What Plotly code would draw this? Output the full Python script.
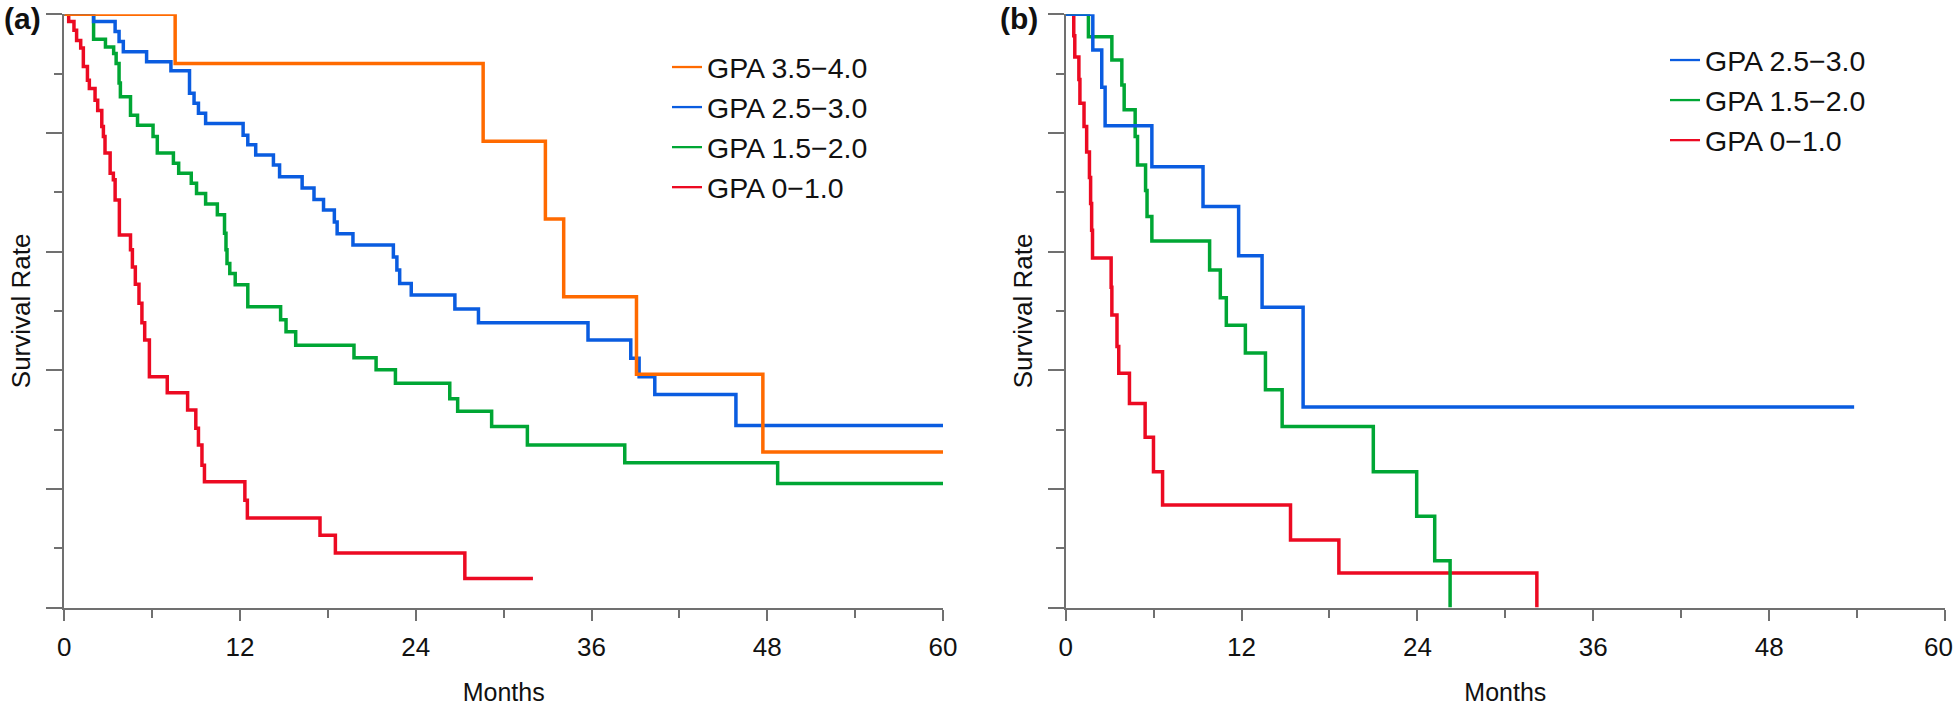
import plotly.graph_objects as go

# ---------------- Panel (a) data ----------------
a_orange_t = [0, 7.57, 28.6, 32.85, 34.1, 39.07, 47.7, 60]
a_orange_s = [1.0, 0.917, 0.786, 0.655, 0.524, 0.393, 0.262, 0.262]

a_blue_t = [0, 2.0, 3.47, 3.74, 4.03, 5.62, 7.28, 8.55, 8.86, 9.16, 9.65,
            12.21, 12.53, 13.07, 14.28, 14.70, 16.24, 17.05, 17.70, 18.44, 18.63,
            19.71, 22.47, 22.71, 22.90, 23.69, 26.67, 28.28, 35.76, 38.68, 39.25,
            40.32, 45.86, 60]
a_blue_s = [1.0, 0.988, 0.971, 0.954, 0.937, 0.920, 0.905, 0.867, 0.850, 0.833, 0.816,
            0.796, 0.780, 0.763, 0.746, 0.726, 0.707, 0.688, 0.670, 0.650, 0.630,
            0.611, 0.591, 0.569, 0.546, 0.527, 0.503, 0.480, 0.451, 0.420, 0.389,
            0.359, 0.307, 0.307]

a_green_t = [0, 2.0, 2.81, 3.37, 3.54, 3.74, 3.83, 4.52, 5.0, 6.06,
             6.35, 7.45, 7.81, 8.67, 9.03, 9.65, 10.45, 10.94, 11.04, 11.11,
             11.3, 11.67, 12.53, 14.77, 15.14, 15.8, 19.78, 21.29, 22.61, 26.32,
             26.86, 29.18, 31.62, 38.27, 48.71, 60]
a_green_s = [1.0, 0.958, 0.945, 0.934, 0.917, 0.884, 0.861, 0.830, 0.813, 0.794,
             0.766, 0.749, 0.732, 0.715, 0.698, 0.680, 0.662, 0.631, 0.603, 0.580,
             0.563, 0.544, 0.507, 0.485, 0.465, 0.442, 0.421, 0.401, 0.378, 0.352,
             0.331, 0.305, 0.274, 0.244, 0.209, 0.209]

a_red_t = [0, 0.3, 0.66, 0.84, 1.12, 1.30, 1.58, 1.71, 2.10, 2.28,
           2.56, 2.67, 2.78, 3.13, 3.35, 3.47, 3.76, 4.52, 4.65, 4.85,
           5.1, 5.3, 5.49, 5.81, 7.03, 8.42, 8.98, 9.16, 9.4, 9.57,
           12.33, 12.5, 17.46, 18.51, 27.35, 32.0]
a_red_s = [1.0, 0.988, 0.973, 0.956, 0.943, 0.912, 0.889, 0.875, 0.855, 0.838,
           0.811, 0.794, 0.766, 0.732, 0.721, 0.687, 0.628, 0.603, 0.574, 0.545,
           0.513, 0.480, 0.451, 0.389, 0.362, 0.333, 0.302, 0.274, 0.240, 0.212,
           0.181, 0.151, 0.122, 0.092, 0.049, 0.049]

# ---------------- Panel (b) data ----------------
b_blue_t = [0, 1.85, 2.46, 2.69, 5.88, 9.37, 11.80, 13.40, 16.2, 53.8]
b_blue_s = [1.0, 0.940, 0.877, 0.812, 0.743, 0.676, 0.593, 0.506, 0.338, 0.338]

b_green_t = [0, 1.55, 3.15, 3.83, 3.99, 4.74, 4.90, 5.45, 5.55, 5.88,
             9.82, 10.55, 10.96, 12.26, 13.63, 14.77, 20.99, 23.95, 25.18, 26.23]
b_green_s = [1.0, 0.962, 0.923, 0.881, 0.839, 0.794, 0.746, 0.703, 0.659, 0.618,
             0.569, 0.522, 0.476, 0.429, 0.367, 0.305, 0.229, 0.154, 0.079, 0.0]

b_red_t = [0, 0.55, 0.62, 0.9, 0.97, 1.25, 1.43, 1.62, 1.7, 1.77, 1.83,
           3.1, 3.15, 3.5, 3.62, 4.35, 5.42, 5.99, 6.61, 15.34, 18.64, 32.15]
b_red_s = [1.0, 0.964, 0.928, 0.89, 0.85, 0.811, 0.768, 0.725, 0.681, 0.636, 0.589,
           0.54, 0.493, 0.44, 0.395, 0.344, 0.287, 0.229, 0.173, 0.114, 0.058, 0.0]

x_ticks = [0, 12, 24, 36, 48, 60]
x_title = "Months"
y_title = "Survival Rate"
names = {"orange": "GPA 3.5\u22124.0", "blue": "GPA 2.5\u22123.0",
         "green": "GPA 1.5\u22122.0", "red": "GPA 0\u22121.0"}
colors = {"orange": "#FF6A00", "blue": "#0A5CE0", "green": "#00A634", "red": "#EC0A22"}

W, H = 1960, 706
LW = 3.5
LEG_LW = 2.3
FONT = "Liberation Sans, Arial, sans-serif"

fig = go.Figure()

def add(t, s, key, xa, ya):
    fig.add_trace(go.Scatter(
        x=t, y=s, mode="lines", line=dict(color=colors[key], width=LW, shape="hv"),
        name=names[key], xaxis=xa, yaxis=ya, showlegend=False, cliponaxis=False,
        hoverinfo="skip"))

def add_legend_entry(key, xa, ya, leg):
    # legend-only entry (thinner legend swatch as in the original)
    fig.add_trace(go.Scatter(
        x=[None], y=[None], mode="lines", line=dict(color=colors[key], width=LEG_LW),
        name=names[key], xaxis=xa, yaxis=ya, legend=leg, showlegend=True,
        hoverinfo="skip"))

# draw order: red, green, blue, orange (orange on top)
add(a_red_t, a_red_s, "red", "x", "y")
add(a_green_t, a_green_s, "green", "x", "y")
add(a_blue_t, a_blue_s, "blue", "x", "y")
add(a_orange_t, a_orange_s, "orange", "x", "y")

add(b_red_t, b_red_s, "red", "x2", "y2")
add(b_green_t, b_green_s, "green", "x2", "y2")
add(b_blue_t, b_blue_s, "blue", "x2", "y2")

for k in ["orange", "blue", "green", "red"]:
    add_legend_entry(k, "x", "y", "legend")
for k in ["blue", "green", "red"]:
    add_legend_entry(k, "x2", "y2", "legend2")

axis_col = "#707070"
tickfont = dict(family=FONT, size=26, color="#111111")
titlefont = dict(family=FONT, size=26, color="#111111")
xtitlefont = dict(family=FONT, size=25, color="#111111")

def xaxis_cfg(domain, anchor, labels):
    return dict(domain=domain, anchor=anchor, range=[0, 60], tickmode="array",
                tickvals=x_ticks, ticktext=labels,
                showgrid=False, zeroline=False, showline=True, linecolor=axis_col,
                linewidth=2, ticks="outside", ticklen=11, tickwidth=2, tickcolor=axis_col,
                tickfont=tickfont, ticklabelstandoff=4,
                minor=dict(dtick=6, tick0=0, ticks="outside", ticklen=8, tickwidth=2,
                           tickcolor=axis_col, showgrid=False),
                title=dict(text=x_title, font=xtitlefont, standoff=23),
                automargin=False, fixedrange=True)

def yaxis_cfg(domain, anchor):
    return dict(domain=domain, anchor=anchor, range=[0, 1], dtick=0.2, tick0=0,
                showticklabels=False, showgrid=False, zeroline=False, showline=True,
                linecolor=axis_col, linewidth=2, ticks="outside", ticklen=16,
                tickwidth=2, tickcolor=axis_col,
                minor=dict(dtick=0.1, tick0=0, ticks="outside", ticklen=8, tickwidth=2,
                           tickcolor=axis_col, showgrid=False),
                title=dict(text=y_title, font=titlefont, standoff=8),
                automargin=False, fixedrange=True)

labels_a = [str(v) for v in x_ticks]
# the last label of panel (b) sits slightly inwards (annotation below), as in the original
labels_b = [str(v) for v in x_ticks[:-1]] + [""]

ydom = [1 - 607.5 / H, 1 - 14.3 / H]
label_y = 1 - 647 / H

fig.update_layout(
    width=W, height=H, margin=dict(l=0, r=0, t=0, b=0),
    paper_bgcolor="white", plot_bgcolor="white",
    xaxis=xaxis_cfg([64.3 / W, 943 / W], "y", labels_a),
    yaxis=yaxis_cfg(ydom, "x"),
    xaxis2=xaxis_cfg([1065.7 / W, 1945 / W], "y2", labels_b),
    yaxis2=yaxis_cfg(ydom, "x2"),
    legend=dict(x=667 / W, y=1 - 42 / H, xanchor="left", yanchor="top",
                bgcolor="rgba(0,0,0,0)",
                font=dict(family=FONT, size=28.5, color="#111111")),
    legend2=dict(x=1665 / W, y=1 - 35 / H, xanchor="left", yanchor="top",
                 bgcolor="rgba(0,0,0,0)",
                 font=dict(family=FONT, size=28.5, color="#111111")),
    showlegend=True,
    annotations=[
        dict(text="<b>(a)</b>", x=22 / W, y=1, xref="paper", yref="paper",
             showarrow=False, xanchor="center", yanchor="top",
             font=dict(family=FONT, size=30, color="#111111")),
        dict(text="<b>(b)</b>", x=1019 / W, y=1, xref="paper", yref="paper",
             showarrow=False, xanchor="center", yanchor="top",
             font=dict(family=FONT, size=30, color="#111111")),
        dict(text=str(x_ticks[-1]), x=x_ticks[-1], xref="x2", y=label_y, yref="paper",
             showarrow=False, xanchor="center", yanchor="middle", xshift=-7,
             font=tickfont),
    ],
)

# remove the browser's default 8px page margin so the figure fills the window exactly
fig.write_html("out.html",
               config={"displayModeBar": False, "staticPlot": True},
               post_script="document.body.style.margin='0';document.body.style.overflow='hidden';")
